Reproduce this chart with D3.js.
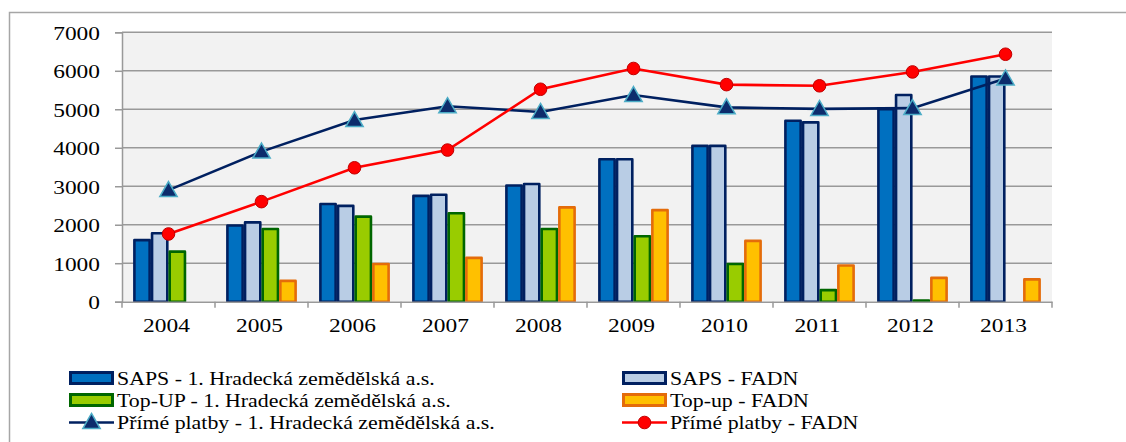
<!DOCTYPE html>
<html><head><meta charset="utf-8">
<script src="https://cdn.jsdelivr.net/npm/d3@7"></script>
<style>body{margin:0;background:#fff}svg{display:block}</style>
</head><body>
<svg id="c" width="1126" height="442"></svg>
<script>
const years = ["2004","2005","2006","2007","2008","2009","2010","2011","2012","2013"];
const sapsHZ   = [1600,1980,2540,2750,3020,3700,4050,4700,5000,5850];
const sapsFADN = [1780,2060,2490,2780,3060,3700,4050,4660,5370,5850];
const topupHZ  = [1300,1890,2210,2300,1890,1700,980,300,30,0];
const topupFADN= [0,540,980,1140,2450,2380,1580,940,620,580];
const primeHZ  = [2900,3900,4720,5080,4930,5370,5050,5010,5030,5800];
const primeFADN= [1760,2600,3480,3940,5520,6060,5640,5610,5970,6430];
const yTicks = [0,1000,2000,3000,4000,5000,6000,7000];

const barSeries = [
  {name:"SAPS - 1. Hradecká zemědělská a.s.", vals:sapsHZ, fill:"#0070C0", stroke:"#002060"},
  {name:"SAPS - FADN", vals:sapsFADN, fill:"#B9CDE5", stroke:"#002060"},
  {name:"Top-UP - 1. Hradecká zemědělská a.s.", vals:topupHZ, fill:"#99CC00", stroke:"#006600"},
  {name:"Top-up - FADN", vals:topupFADN, fill:"#FFC000", stroke:"#E46C0A"}
];
const lineSeries = [
  {name:"Přímé platby - 1. Hradecká zemědělská a.s.", vals:primeHZ, color:"#002060", marker:"tri"},
  {name:"Přímé platby - FADN", vals:primeFADN, color:"#FF0000", marker:"circ"}
];

const svg = d3.select("#c");
const L=122, R=1052, T=32.3, B=301.7;
const font = "'Liberation Serif','Times New Roman',serif";

// outer frame
svg.append("path").attr("d","M9.5,442 L9.5,12.5 L1126,12.5").attr("fill","none").attr("stroke","#A6A6A6").attr("stroke-width",1.5);

const x0 = d3.scaleBand().domain(years).range([L,R]).padding(0);
const x1 = d3.scaleBand().domain(d3.range(4)).range([11.2, 81.8]).padding(0);
const y = d3.scaleLinear().domain([0,7000]).range([B,T]);

svg.append("rect").attr("x",L).attr("y",T).attr("width",R-L).attr("height",B-T).attr("fill","#F2F2F2");

// gridlines
svg.append("g").selectAll("line").data(yTicks.filter(d=>d>0)).join("line")
  .attr("x1",L).attr("x2",R).attr("y1",d=>y(d)).attr("y2",d=>y(d))
  .attr("stroke","#999").attr("stroke-width",1.5);

// y axis
const yAx = svg.append("g").attr("transform",`translate(${L},0)`)
  .call(d3.axisLeft(y).tickValues(yTicks).tickSize(7).tickPadding(15).tickFormat(d3.format("d")));
yAx.select(".domain").attr("stroke","#999").attr("stroke-width",1.5);
yAx.selectAll(".tick line").attr("stroke","#999").attr("stroke-width",1.5);
yAx.selectAll("text").attr("font-family",font).attr("font-size",19.5).attr("fill","#000").attr("dy","0.35em");

// bars
barSeries.forEach((s,i)=>{
  svg.append("g").selectAll("rect").data(s.vals.map((v,j)=>({v,yr:years[j]})).filter(d=>d.v>0)).join("rect")
    .attr("x",d=>x0(d.yr)+x1(i)+1.2).attr("width",x1.bandwidth()-2.4)
    .attr("y",d=>y(d.v)).attr("height",d=>B-y(d.v))
    .attr("fill",s.fill).attr("stroke",s.stroke).attr("stroke-width",2.6).attr("stroke-linejoin","round");
});

// x axis
const xAx = svg.append("g").attr("transform",`translate(0,${B})`)
  .call(d3.axisBottom(x0).tickSize(0).tickPadding(21));
xAx.select(".domain").attr("stroke","#999").attr("stroke-width",1.5);
xAx.selectAll("text").attr("font-family",font).attr("font-size",19.5).attr("fill","#000").attr("dy","0.5em")
  .attr("transform","translate(-2,0)");
svg.append("g").selectAll("line").data(years.concat(["end"])).join("line")
  .attr("x1",(d,i)=>i<years.length?x0(d):R).attr("x2",(d,i)=>i<years.length?x0(d):R)
  .attr("y1",B).attr("y2",B+6).attr("stroke","#999").attr("stroke-width",1.5);

// stretch axis text horizontally
svg.selectAll(".tick text").each(function(){
  const w=this.getComputedTextLength();
  d3.select(this).attr("textLength",w*1.2).attr("lengthAdjust","spacingAndGlyphs");
});

const cx = yr => x0(yr)+x0.bandwidth()/2;
const tri = d3.symbol().type(d3.symbolTriangle).size(130);

lineSeries.forEach(s=>{
  const pts = s.vals.map((v,j)=>[cx(years[j]), y(v)]);
  svg.append("path").attr("d",d3.line()(pts)).attr("fill","none").attr("stroke",s.color).attr("stroke-width",2.6);
  const g = svg.append("g");
  if(s.marker==="tri"){
    g.selectAll("path").data(pts).join("path").attr("d",tri)
      .attr("transform",d=>`translate(${d[0]},${d[1]+1.5})`)
      .attr("fill","#0D2C6C").attr("stroke","#4BACC6").attr("stroke-width",1.5);
  } else {
    g.selectAll("circle").data(pts).join("circle").attr("cx",d=>d[0]).attr("cy",d=>d[1]).attr("r",6.3)
      .attr("fill","#FF0000").attr("stroke","#C00000").attr("stroke-width",1);
  }
});

// legend
const legItems = [
  {s:barSeries[0], col:0,row:0,type:"bar"},
  {s:barSeries[1], col:1,row:0,type:"bar"},
  {s:barSeries[2], col:0,row:1,type:"bar"},
  {s:barSeries[3], col:1,row:1,type:"bar"},
  {s:lineSeries[0], col:0,row:2,type:"line"},
  {s:lineSeries[1], col:1,row:2,type:"line"}
];
const colX=[69,622], rowY=[378,400,422];
legItems.forEach(it=>{
  const g = svg.append("g").attr("transform",`translate(${colX[it.col]},${rowY[it.row]})`);
  if(it.type==="bar"){
    g.append("rect").attr("x",1.5).attr("y",-5.5).attr("width",42).attr("height",11)
      .attr("fill",it.s.fill).attr("stroke",it.s.stroke).attr("stroke-width",3);
  } else {
    g.append("line").attr("x1",0).attr("x2",45).attr("y1",0.5).attr("y2",0.5).attr("stroke",it.s.color).attr("stroke-width",2.6);
    if(it.s.marker==="tri") g.append("path").attr("d",tri).attr("transform","translate(22.5,1.5)")
      .attr("fill","#0D2C6C").attr("stroke","#4BACC6").attr("stroke-width",1.5);
    else g.append("circle").attr("cx",22.5).attr("cy",0.5).attr("r",6.3).attr("fill","#FF0000").attr("stroke","#C00000");
  }
  const t = g.append("text").attr("x",48).attr("y",7).attr("font-family",font).attr("font-size",19.5)
    .attr("fill","#000").text(it.s.name);
  const w = t.node().getComputedTextLength();
  t.attr("textLength",w*1.12).attr("lengthAdjust","spacingAndGlyphs");
});
</script>
</body></html>
